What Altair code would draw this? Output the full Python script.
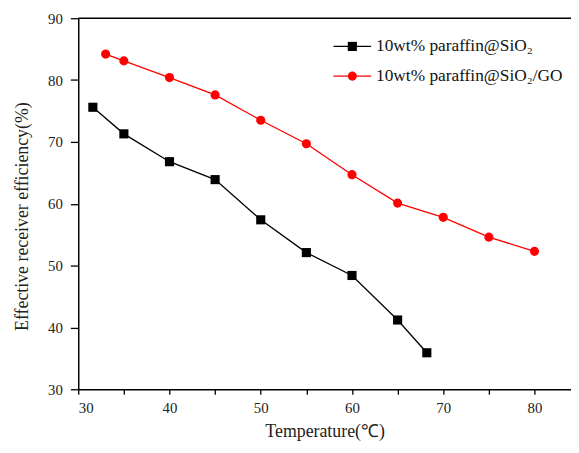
import altair as alt
import pandas as pd

# ---- data ----
temp_sio2 = [31.6, 35, 40, 45, 50, 55, 60, 65, 68.2]
eff_sio2 = [75.6, 71.3, 66.8, 63.9, 57.4, 52.1, 48.4, 41.2, 35.9]
temp_go = [33, 35, 40, 45, 50, 55, 60, 65, 70, 75, 80]
eff_go = [84.2, 83.1, 80.4, 77.6, 73.5, 69.7, 64.7, 60.1, 57.8, 54.6, 52.3]
series_names = ["10wt% paraffin@SiO₂", "10wt% paraffin@SiO₂/GO"]
series_colors = ["#000000", "#ff0000"]
series_shapes = ["square", "circle"]
x_ticks = [30, 35, 40, 45, 50, 55, 60, 65, 70, 75, 80]
y_ticks = [30, 35, 40, 45, 50, 55, 60, 65, 70, 75, 80, 85, 90]
x_title = "Temperature(℃)"
y_title = "Effective receiver efficiency(%)"

FONT = "Liberation Serif"

df = pd.concat([
    pd.DataFrame({"T": temp_sio2, "E": eff_sio2, "s": series_names[0]}),
    pd.DataFrame({"T": temp_go, "E": eff_go, "s": series_names[1]}),
])

x_enc = alt.X("T:Q", scale=alt.Scale(domain=[30, 84], nice=False, zero=False),
              axis=alt.Axis(values=x_ticks, labelExpr="datum.value % 10 === 0 ? datum.label : ''",
                            title=x_title, tickSize=5, labelPadding=6,
                            titleY=43, titleBaseline="middle"))
y_enc = alt.Y("E:Q", scale=alt.Scale(domain=[30, 90], nice=False, zero=False),
              axis=alt.Axis(values=y_ticks, labelExpr="datum.value % 10 === 0 ? datum.label : ''",
                            title=y_title, tickSize=8, labelPadding=8,
                            titleX=-56, titleY=200, titleBaseline="middle", titleAngle=270))
color_enc = alt.Color("s:N", scale=alt.Scale(domain=series_names, range=series_colors), legend=None)
shape_enc = alt.Shape("s:N", scale=alt.Scale(domain=series_names, range=series_shapes), legend=None)

base = alt.Chart(df)
lines = base.mark_line(strokeWidth=1.3).encode(x=x_enc, y=y_enc, color=color_enc, detail="s:N")
points = base.mark_point(filled=True, opacity=1, size=85).encode(x="T:Q", y="E:Q", color=color_enc, shape=shape_enc)

top_line = alt.Chart(pd.DataFrame({"v": [90]})).mark_rule(color="black", strokeWidth=1.5).encode(y="v:Q")

legend_layers = []
rows_y = [28.5, 58.5]
for i in range(2):
    ld = pd.DataFrame({"t": [series_names[i]]})
    legend_layers.append(alt.Chart(ld).mark_rule(color=series_colors[i], strokeWidth=1.3).encode(
        x=alt.value(258), x2=alt.value(296), y=alt.value(rows_y[i])))
    legend_layers.append(alt.Chart(ld).mark_point(shape=series_shapes[i], filled=True, opacity=1, size=85,
                                                  color=series_colors[i]).encode(
        x=alt.value(277), y=alt.value(rows_y[i])))
    legend_layers.append(alt.Chart(ld).mark_text(align="left", baseline="middle", font=FONT, fontSize=17.5,
                                                 color="#111").encode(
        x=alt.value(301), y=alt.value(rows_y[i]), text="t:N"))

chart = alt.layer(top_line, lines, points, *legend_layers).properties(
    width=498, height=375,
    autosize=alt.AutoSizeParams(type="none"),
    padding={"left": 71, "top": 8, "right": 0, "bottom": 54},
).configure_view(stroke=None).configure_axis(
    grid=False, domainColor="black", domainWidth=1.5, tickColor="black", tickWidth=1.3,
    labelFont=FONT, labelFontSize=15, labelColor="#222",
    titleFont=FONT, titleFontSize=18, titleFontWeight="normal", titleColor="#222",
)

chart.save("out.html", embed_options={"renderer": "svg", "actions": False})
